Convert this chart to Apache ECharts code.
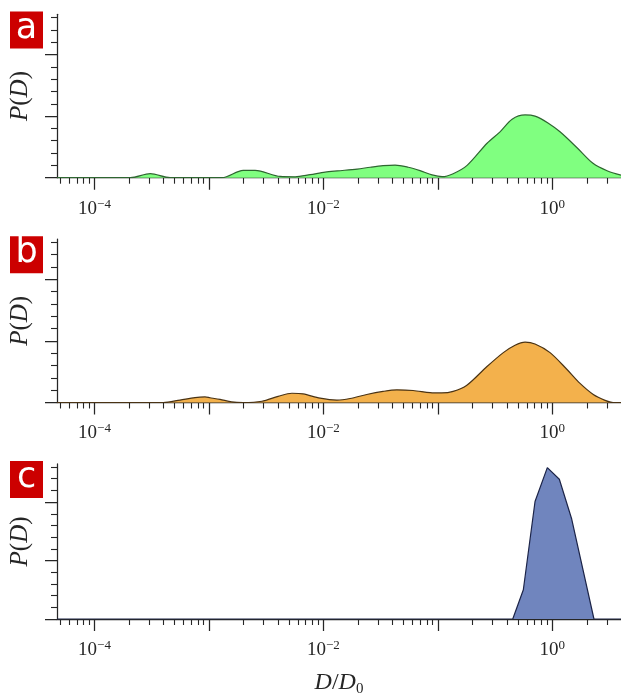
<!DOCTYPE html>
<html><head><meta charset="utf-8">
<script src="https://cdn.jsdelivr.net/npm/echarts@6/dist/echarts.min.js"></script>
<style>html,body{margin:0;padding:0;background:#fff}#c{width:621px;height:698px}</style>
</head><body><div id="c"></div>
<script>
// ---- data (D/D0 values and P(D) values) ----
const dA = [4.70e-5, 2.06e-4, 3.07e-4, 4.57e-4, 1.30e-3, 1.99e-3, 2.53e-3, 4.19e-3, 5.66e-3, 7.66e-3,
  1.035e-2, 1.32e-2, 1.97e-2, 2.56e-2, 3.32e-2, 4.23e-2, 5.50e-2, 6.98e-2, 8.89e-2, 0.109,
  0.136, 0.180, 0.269, 0.349, 0.445, 0.578, 0.706, 0.916, 1.167, 1.644, 2.265, 3.006, 3.98];
const pA = [0, 0, 0.065, 0, 0, 0.12, 0.12, 0.02, 0.015, 0.05,
  0.09, 0.11, 0.14, 0.17, 0.195, 0.205, 0.17, 0.115, 0.045, 0.016,
  0.065, 0.2, 0.56, 0.745, 0.95, 1.02, 1.0, 0.89, 0.745, 0.487, 0.233, 0.113, 0.04];

const dB = [4.70e-5, 3.98e-4, 5.58e-4, 7.55e-4, 9.23e-4, 1.02e-3, 1.25e-3, 1.58e-3, 1.99e-3, 2.90e-3,
  4.02e-3, 5.30e-3, 6.65e-3, 9.35e-3, 1.31e-2, 1.71e-2, 2.39e-2, 3.32e-2, 4.38e-2, 6.07e-2,
  8.55e-2, 0.108, 0.136, 0.179, 0.267, 0.373, 0.472, 0.578, 0.706, 0.955,
  1.337, 1.746, 2.28, 2.89, 3.39, 3.98];
const pB = [0, 0, 0.04, 0.08, 0.09, 0.077, 0.05, 0.01, 0, 0.02,
  0.1, 0.15, 0.14, 0.07, 0.04, 0.065, 0.13, 0.18, 0.205, 0.195,
  0.16, 0.155, 0.18, 0.28, 0.58, 0.81, 0.93, 0.98, 0.95, 0.81,
  0.54, 0.31, 0.13, 0.035, 0, 0];

const dC = [4.70e-5, 0.451, 0.558, 0.706, 0.904, 1.151, 1.476, 2.31, 3.98];
const pC = [0, 0, 0.5, 2.01, 2.59, 2.39, 1.71, 0, 0];

const panelLabels = ['a', 'b', 'c'];
const xRange = [4.70e-5, 3.98];
const yMaxVal = 2.653;
const majorDecades = [-4, -3, -2, -1, 0];
const labelDecades = [-4, -2, 0];
const yMajorTicks = [0, 1, 2];
const yMinorTicks = [0.2, 0.4, 0.6, 0.8, 1.2, 1.4, 1.6, 1.8, 2.2, 2.4, 2.6];

const fills = ['#80ff80', '#f3b14c', '#7085be'];
const strokes = ['#2e6630', '#4a3314', '#1c2448'];
const smooths = [0.3, 0.3, false];

// ---- build ----
const lmin = Math.log10(xRange[0]), lmax = Math.log10(xRange[1]);
const minorX = [];
for (let n = -5; n <= 0; n++) for (let k = 2; k <= 9; k++) {
  const v = n + Math.log10(k);
  if (v > lmin && v < lmax) minorX.push(v);
}
const series = [[dA, pA], [dB, pB], [dC, pC]];
const tops = [14.3, 239.1, 463.9];
const gh = 163.4;
const ink = '#262626';
const serif = 'Liberation Serif';

const grid = [], xAxis = [], yAxis = [], ser = [], graphic = [];
tops.forEach((t, i) => {
  grid.push({left: 56.7, right: 0, top: t, height: gh});
  const xa = {
    type: 'value', gridIndex: i, min: lmin, max: lmax, position: 'bottom',
    axisLine: {show: true, onZero: false, lineStyle: {color: ink, width: 1.25}},
    axisTick: {show: true, length: 12, customValues: majorDecades, lineStyle: {color: ink, width: 1.25}},
    axisLabel: {
      show: true, customValues: labelDecades, margin: 20,
      formatter: v => { const e = Math.round(v); return '{b|10}{s|' + (e < 0 ? '\u2212' + (-e) : e) + '}'; },
      rich: {
        b: {fontFamily: serif, fontSize: 19, color: ink, lineHeight: 22},
        s: {fontFamily: serif, fontSize: 13, color: ink, lineHeight: 13, verticalAlign: 'top'}
      }
    },
    splitLine: {show: false}
  };
  if (i === 2) {
    xa.name = '{i|D}{n|/}{i|D}{s|0}';
    xa.nameLocation = 'middle';
    xa.nameGap = 50;
    xa.nameTextStyle = {
      rich: {
        i: {fontFamily: serif, fontStyle: 'italic', fontSize: 24, color: ink, lineHeight: 28},
        n: {fontFamily: serif, fontSize: 24, color: ink, lineHeight: 28},
        s: {fontFamily: serif, fontSize: 15, color: ink, lineHeight: 15, verticalAlign: 'bottom'}
      }
    };
  }
  xAxis.push(xa);
  xAxis.push({
    type: 'value', gridIndex: i, min: lmin, max: lmax, position: 'bottom',
    axisLine: {show: false, onZero: false},
    axisTick: {show: true, length: 6, customValues: minorX, lineStyle: {color: ink, width: 1.1}},
    axisLabel: {show: false}, splitLine: {show: false}
  });
  yAxis.push({
    type: 'value', gridIndex: i, min: 0, max: yMaxVal, position: 'left',
    axisLine: {show: true, onZero: false, lineStyle: {color: ink, width: 1.25}},
    axisTick: {show: true, length: 12, customValues: yMajorTicks, lineStyle: {color: ink, width: 1.25}},
    axisLabel: {show: false}, splitLine: {show: false},
    name: '{i|P}{n|(}{i|D}{n|)}', nameLocation: 'middle', nameGap: 24, nameRotate: 90,
    nameTextStyle: {
      rich: {
        i: {fontFamily: serif, fontStyle: 'italic', fontSize: 25, color: ink},
        n: {fontFamily: serif, fontSize: 25, color: ink}
      }
    }
  });
  yAxis.push({
    type: 'value', gridIndex: i, min: 0, max: yMaxVal, position: 'left',
    axisLine: {show: false, onZero: false},
    axisTick: {show: true, length: 6, customValues: yMinorTicks, lineStyle: {color: ink, width: 1.1}},
    axisLabel: {show: false}, splitLine: {show: false}
  });
  const [ds, ps] = series[i];
  ser.push({
    type: 'line', xAxisIndex: 2 * i, yAxisIndex: 2 * i,
    data: ds.map((d, j) => [Math.log10(d), ps[j]]),
    showSymbol: false, smooth: smooths[i], animation: false,
    lineStyle: {color: strokes[i], width: 1.2},
    areaStyle: {color: fills[i], opacity: 1},
    z: 3
  });
  graphic.push({
    type: 'group', left: 10, top: t - 3.3,
    children: [
      {type: 'rect', shape: {x: 0, y: 0, width: 33, height: 37}, style: {fill: '#cc0000'}},
      {type: 'text', x: 16.5, y: 17, style: {text: panelLabels[i], fill: '#ffffff', fontFamily: 'DejaVu Sans', fontSize: 35, align: 'center', verticalAlign: 'middle'}}
    ]
  });
});

const chart = echarts.init(document.getElementById('c'), null, {renderer: 'canvas'});
chart.setOption({animation: false, grid, xAxis, yAxis, series: ser, graphic});
</script></body></html>
